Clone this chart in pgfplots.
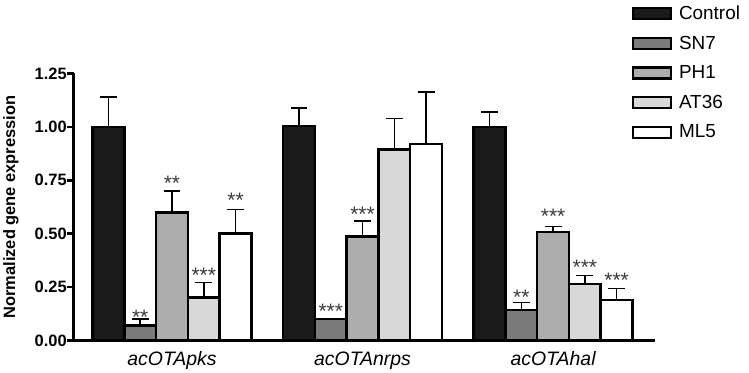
\documentclass[border=0pt]{standalone}
\usepackage{pgfplots}
\pgfplotsset{compat=1.18}
\usepackage{fontspec}
\setmainfont{Liberation Sans}
\definecolor{cCtrl}{HTML}{1A1A1A}
\definecolor{cSN}{HTML}{7A7A7A}
\definecolor{cPH}{HTML}{ADADAD}
\definecolor{cAT}{HTML}{D8D8D8}
\definecolor{cML}{HTML}{FFFFFF}
\definecolor{cStar}{HTML}{3A3A3A}
\begin{document}
\begin{tikzpicture}
\pgfplotsset{
  mybar/.style={ybar, bar width=1, bar shift=0pt, draw=black, line width=2.5pt,
    legend image code/.code={\draw[##1, line width=2.2pt] (0pt,-5.5pt) rectangle (38pt,5.5pt);},
    error bars/y dir=plus, error bars/y explicit,
    error bars/error bar style={line width=1.5pt, black},
    error bars/error mark options={rotate=90, mark size=8.5pt, line width=1.5pt, black}},
}
\begin{axis}[
  scale only axis,
  width=583pt, height=268pt,
  xmin=-1.09, xmax=17.2,
  ymin=0, ymax=1.25,
  axis lines=left,
  axis line style={line width=2.8pt, -},
  clip=false,
  ytick={0,0.25,0.5,0.75,1,1.25},
  yticklabel style={font=\bfseries\fontsize{16.5}{16.5}\selectfont, inner xsep=0.5pt},
  /pgf/number format/assume math mode=true,
  /pgf/number format/.cd, fixed, fixed zerofill, precision=2, /pgfplots/.cd,
  tick align=outside,
  major tick length=6.5pt,
  ytick style={line width=2.5pt, black},
  xtick={2,8,14},
  xticklabels={acOTApks, acOTAnrps, acOTAhal},
  xticklabel style={font=\itshape\fontsize{19.5}{19.5}\selectfont, yshift=-1pt},
  xtick style={draw=none},
  ylabel={Normalized gene expression},
  ylabel shift=12pt,
  ylabel style={font=\bfseries\fontsize{16.5}{16.5}\selectfont},
  legend style={draw=none, fill=none, at={(axis description cs:0.9468,1.276)}, anchor=north west,
    font=\fontsize{19}{19}\selectfont, row sep=13pt, inner xsep=8pt, inner ysep=5pt,
    nodes={inner sep=1pt},
    /tikz/every odd column/.append style={column sep=6pt}},
  legend cell align=left,
]
\addplot[mybar, fill=cCtrl] coordinates {(0,1.00)+-(0,0.141) (6,1.003)+-(0,0.086) (12,1.00)+-(0,0.07)};
\addlegendentry{Control}
\addplot[mybar, fill=cSN] coordinates {(1,0.07)+-(0,0.03) (7,0.101)+-(0,0.0) (13,0.143)+-(0,0.034)};
\addlegendentry{SN7}
\addplot[mybar, fill=cPH] coordinates {(2,0.60)+-(0,0.10) (8,0.487)+-(0,0.073) (14,0.507)+-(0,0.026)};
\addlegendentry{PH1}
\addplot[mybar, fill=cAT] coordinates {(3,0.202)+-(0,0.07) (9,0.894)+-(0,0.145) (15,0.264)+-(0,0.041)};
\addlegendentry{AT36}
\addplot[mybar, fill=cML] coordinates {(4,0.502)+-(0,0.112) (10,0.919)+-(0,0.244) (16,0.19)+-(0,0.053)};
\addlegendentry{ML5}
\addplot[draw=none, forget plot, nodes near coords, point meta=explicit symbolic,
  every node near coord/.append style={font=\fontsize{21}{21}\selectfont, text=cStar, anchor=base, yshift=0pt, inner sep=0pt}]
  coordinates {(1,0.077)[**] (2,0.70)[**] (3,0.272)[***] (4,0.624)[**]
               (7,0.101)[***] (8,0.555)[***]
               (13,0.168)[**] (14,0.547)[***] (15,0.31)[***] (16,0.248)[***]};
\end{axis}
\end{tikzpicture}
\end{document}
